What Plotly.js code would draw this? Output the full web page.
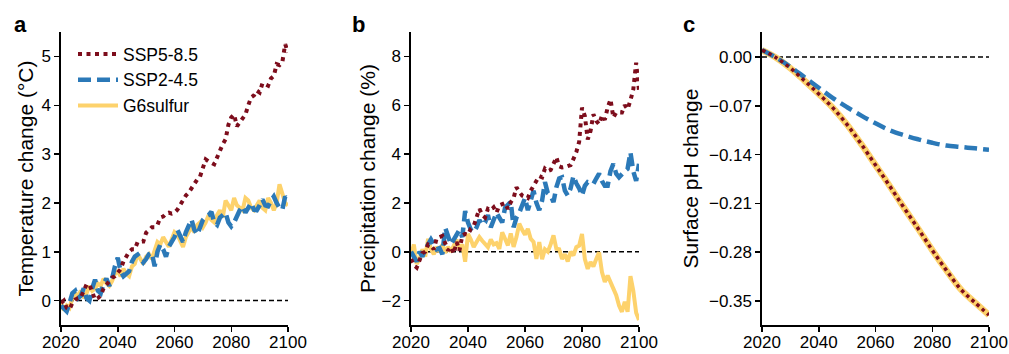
<!DOCTYPE html>
<html>
<head>
<meta charset="utf-8">
<script src="https://cdn.plot.ly/plotly-3.0.1.min.js"></script>
<style>html,body{margin:0;padding:0;background:#fff;}#chart{width:1009px;height:354px;}</style>
</head>
<body>
<div id="chart"></div>
<script>
const years = [2020,2021,2022,2023,2024,2025,2026,2027,2028,2029,
  2030,2031,2032,2033,2034,2035,2036,2037,2038,2039,
  2040,2041,2042,2043,2044,2045,2046,2047,2048,2049,
  2050,2051,2052,2053,2054,2055,2056,2057,2058,2059,
  2060,2061,2062,2063,2064,2065,2066,2067,2068,2069,
  2070,2071,2072,2073,2074,2075,2076,2077,2078,2079,
  2080,2081,2082,2083,2084,2085,2086,2087,2088,2089,
  2090,2091,2092,2093,2094,2095,2096,2097,2098,2099,
  2100];

const tempSSP585 = [-0.05,0.0,-0.15,-0.18,-0.05,0.02,0.05,0.06,0.2,0.33,
  0.33,0.15,0.02,0.05,0.1,0.25,0.33,0.4,0.47,0.5,
  0.58,0.64,0.8,0.92,1.0,1.05,1.05,1.2,1.21,1.21,
  1.39,1.45,1.5,1.5,1.55,1.7,1.72,1.78,1.8,1.78,
  1.8,1.86,1.95,2.07,2.15,2.21,2.3,2.42,2.48,2.54,
  2.7,2.89,2.85,2.83,2.79,2.93,3.09,3.2,3.3,3.6,
  3.75,3.81,3.57,3.65,3.7,3.81,4.0,4.16,4.2,4.3,
  4.26,4.45,4.43,4.4,4.55,4.6,4.84,4.82,4.88,5.25,
  5.08];
const tempSSP245 = [-0.1,-0.15,-0.22,-0.05,0.15,0.2,0.05,0.1,0.25,0.05,
  0.0,0.25,0.43,0.2,0.15,0.35,0.45,0.3,0.45,0.7,
  0.88,0.6,0.5,0.55,0.6,0.8,0.9,0.94,0.85,0.78,
  0.85,0.95,0.98,0.7,1.0,1.15,1.05,0.9,1.1,1.2,
  1.3,1.45,1.3,1.2,1.4,1.55,1.66,1.45,1.35,1.5,
  1.65,1.72,1.75,1.82,1.6,1.55,1.7,1.75,1.8,1.6,
  1.52,1.6,1.75,1.85,1.93,1.8,1.9,2.0,1.86,1.85,
  1.95,2.07,1.95,1.93,2.05,2.13,2.0,1.9,1.86,2.13,
  2.05];
const tempG6sulfur = [-0.05,-0.2,-0.1,-0.15,0.05,0.15,0.1,0.2,0.05,0.15,
  0.3,0.2,0.25,0.35,0.3,0.45,0.35,0.3,0.4,0.55,
  0.6,0.5,0.65,0.55,0.5,0.7,0.75,0.95,0.85,0.75,
  0.9,0.95,0.85,1.05,1.2,1.15,1.3,1.2,1.1,1.25,
  1.4,1.35,1.2,1.1,1.3,1.4,1.5,1.4,1.55,1.6,
  1.5,1.6,1.75,1.65,1.6,1.75,1.85,1.7,2.05,1.95,
  1.85,2.1,1.95,1.9,1.85,2.1,2.05,1.9,1.85,1.95,
  2.05,1.9,1.85,2.1,2.0,1.85,2.0,2.38,2.2,2.0,
  1.95];

const precSSP585 = [-0.3,-0.55,-0.65,-0.3,-0.05,0.0,0.3,0.25,0.1,0.55,
  0.6,0.65,0.35,0.05,0.2,-0.08,0.4,0.05,0.67,0.73,
  0.7,0.95,1.05,1.35,1.76,1.5,1.4,1.76,1.7,1.82,
  1.6,1.9,1.96,2.0,1.75,2.03,2.2,2.64,2.45,2.3,
  2.25,2.2,2.5,2.7,2.9,3.1,3.05,3.4,3.3,3.35,
  3.6,3.87,3.5,3.45,3.47,3.5,3.55,3.8,4.08,4.5,
  5.9,5.56,4.6,4.95,5.63,5.36,5.22,5.57,5.4,5.9,
  6.24,5.5,5.7,5.7,5.7,6.0,5.84,6.2,6.65,7.74,
  6.6];
const precSSP245 = [0.0,-0.2,-0.4,0.0,-0.2,0.1,0.3,0.5,0.3,0.1,
  0.15,-0.1,0.98,0.6,0.3,0.5,0.7,0.9,0.6,1.67,
  1.2,0.9,0.8,1.0,1.3,1.1,1.2,1.5,1.0,1.3,
  1.6,1.4,1.2,1.8,1.9,2.05,1.0,1.4,1.6,1.9,
  2.2,1.7,2.2,2.5,2.0,1.7,2.1,2.85,2.4,2.3,
  2.03,2.64,3.0,3.05,2.5,2.3,2.6,3.1,2.8,2.6,
  2.3,2.7,2.85,2.8,2.78,3.0,3.2,2.9,2.7,2.7,
  3.3,3.6,3.2,3.05,3.2,3.3,3.4,4.07,3.3,2.9,
  3.6];
const precG6sulfur = [-0.15,0.3,-0.5,-0.3,0.1,-0.2,0.53,0.1,-0.1,0.2,
  0.0,0.3,-0.05,0.2,0.0,0.3,0.5,0.1,0.3,-0.41,
  0.73,0.5,0.19,0.4,0.6,0.45,0.3,0.19,0.5,0.3,
  0.35,0.12,0.8,0.5,0.26,0.75,0.2,0.6,1.15,0.9,
  0.7,0.94,0.53,0.4,-0.29,0.4,-0.3,0.1,0.0,0.3,
  0.67,0.12,0.1,-0.29,-0.1,-0.4,0.0,-0.15,0.19,0.25,
  0.73,-0.3,-0.7,-0.42,-0.6,-0.3,-0.02,-0.83,-1.24,-0.97,
  -1.3,-1.51,-1.78,-2.2,-2.46,-2.05,-2.46,-1.0,-1.6,-2.5,
  -2.8];

const phYears = [2020,2025,2030,2035,2040,2045,2050,2055,2060,2065,2070,2075,2080,2085,2090,2095,2100];
const phSSP585 = [0.010,-0.001,-0.016,-0.034,-0.053,-0.073,-0.097,-0.125,-0.155,-0.185,-0.216,-0.246,-0.277,-0.306,-0.333,-0.352,-0.370];
const phSSP245 = [0.010,-0.001,-0.014,-0.029,-0.044,-0.059,-0.072,-0.084,-0.095,-0.105,-0.112,-0.118,-0.123,-0.127,-0.129,-0.131,-0.133];
const phG6sulfur = [0.010,-0.001,-0.016,-0.034,-0.053,-0.073,-0.097,-0.125,-0.155,-0.185,-0.216,-0.246,-0.277,-0.306,-0.333,-0.352,-0.370];

const xTicks = [2020,2040,2060,2080,2100];
const tempTicks = [0,1,2,3,4,5];
const precTicks = [-2,0,2,4,6,8];
const phTicks = [0,-0.07,-0.14,-0.21,-0.28,-0.35];
const names = ['SSP5-8.5','SSP2-4.5','G6sulfur'];
const panelLetters = ['a','b','c'];

const RED = '#7d0d1c', BLUE = '#2b79b8', YEL = '#fdd26c';
const FONT = 'Liberation Sans, Arial, sans-serif';

function mk(x, y, i, ax, show, cfg) {
  return Object.assign({x: x, y: y, name: names[i], type: 'scatter', mode: 'lines',
    xaxis: 'x' + ax, yaxis: 'y' + ax, showlegend: show, legendrank: i + 1,
    hoverinfo: 'skip'}, cfg);
}
const yelL = {line: {color: YEL, width: 4}};
const bluL = {line: {color: BLUE, width: 4.5, dash: '13px,6px'}};
const redL = {line: {color: RED, width: 4, dash: '4px,4.5px'}};

const data = [
  mk(years, tempG6sulfur, 2, '', true, yelL),
  mk(years, tempSSP245, 1, '', true, bluL),
  mk(years, tempSSP585, 0, '', true, redL),
  mk(years, precG6sulfur, 2, '2', false, yelL),
  mk(years, precSSP245, 1, '2', false, bluL),
  mk(years, precSSP585, 0, '2', false, redL),
  mk(phYears, phG6sulfur, 2, '3', false, {line: {color: YEL, width: 6.5, shape: 'spline'}}),
  mk(phYears, phSSP245, 1, '3', false, {line: {color: BLUE, width: 4.5, dash: '13px,6px', shape: 'spline'}}),
  mk(phYears, phSSP585, 0, '3', false, {line: {color: RED, width: 3.5, dash: '3.5px,3.5px', shape: 'spline'}})
];

const W = 1009, H = 354;
const yDom = [1 - 325 / H, 1 - 32 / H];
function xax(l, r) {
  return {domain: [l / W, r / W], range: [2020, 2100], tickvals: xTicks, ticktext: xTicks.map(String),
    showline: true, linecolor: '#000', linewidth: 1.6, ticks: 'outside', ticklen: 5, tickwidth: 1.5,
    tickcolor: '#000', showgrid: false, zeroline: false, tickfont: {size: 17, color: '#000'},
    ticklabelstandoff: -4, fixedrange: true};
}
function yax(anchor, range, ticks, title, standoff, fmt) {
  const a = {domain: yDom, range: range, tickvals: ticks, anchor: anchor,
    showline: true, linecolor: '#000', linewidth: 1.6, ticks: 'outside', ticklen: 5, tickwidth: 1.5,
    tickcolor: '#000', showgrid: false, zeroline: false, tickfont: {size: 17, color: '#000'},
    title: {text: title, font: {size: 21, color: '#000'}, standoff: standoff}, fixedrange: true};
  if (fmt) a.tickformat = fmt;
  return a;
}

const shapes = ['', '2', '3'].map(s => ({type: 'line', xref: 'x' + s, yref: 'y' + s,
  x0: 2020, x1: 2100, y0: 0, y1: 0, layer: 'below', line: {color: '#000', width: 1.5, dash: '5px,3px'}}));

const letterX = [12, 350, 681];
const annotations = panelLetters.map((t, i) => ({text: '<b>' + t + '</b>', xref: 'paper', yref: 'paper',
  x: letterX[i] / W, y: 1 - 10 / H, xanchor: 'left', yanchor: 'top', showarrow: false,
  font: {size: 22, color: '#000'}}));

const layout = {
  width: W, height: H, margin: {l: 0, r: 0, t: 0, b: 0},
  paper_bgcolor: '#fff', plot_bgcolor: '#fff',
  font: {family: FONT, color: '#000'},
  xaxis: xax(61, 288), xaxis2: xax(411, 639), xaxis3: xax(762, 989),
  yaxis: yax('x', [-0.5, 5.5], tempTicks, 'Temperature change (°C)', 2),
  yaxis2: yax('x2', [-3, 9], precTicks, 'Precipitation change (%)', 0),
  yaxis3: yax('x3', [-0.3844, 0.0359], phTicks, 'Surface pH change', 4, '.2f'),
  showlegend: true,
  legend: {x: 73 / W, y: 1 - 36 / H, xanchor: 'left', yanchor: 'top', traceorder: 'normal',
    font: {size: 17.5, color: '#000'}, bgcolor: 'rgba(0,0,0,0)', borderwidth: 0, tracegroupgap: 0, itemwidth: 40},
  shapes: shapes,
  annotations: annotations
};

Plotly.newPlot('chart', data, layout, {displayModeBar: false, staticPlot: true});
</script>
</body>
</html>
